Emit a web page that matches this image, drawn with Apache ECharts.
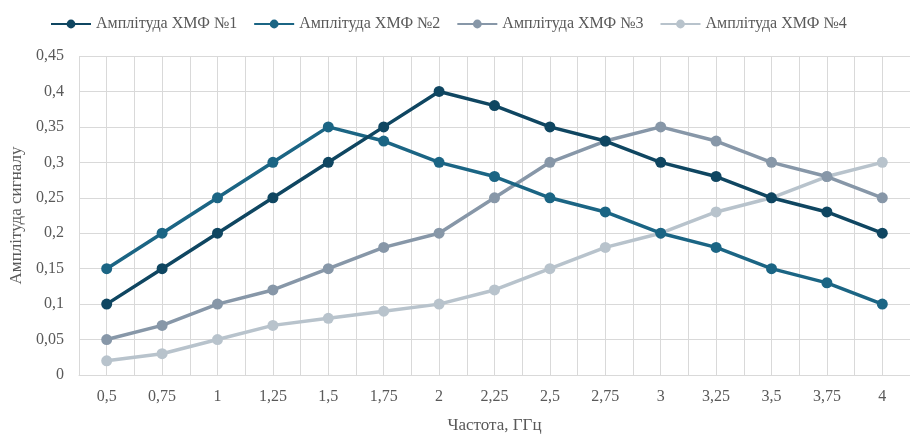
<!DOCTYPE html>
<html>
<head>
<meta charset="utf-8">
<script src="https://cdn.jsdelivr.net/npm/echarts@6/dist/echarts.min.js"></script>
<style>
  html, body { margin: 0; padding: 0; background: #fff; }
  #chart { width: 910px; height: 439px; }
</style>
</head>
<body>
<div id="chart"></div>
<script>
const categories = ['0,5', '0,75', '1', '1,25', '1,5', '1,75', '2', '2,25', '2,5', '2,75', '3', '3,25', '3,5', '3,75', '4']
const seriesNames = ['Амплітуда ХМФ №1', 'Амплітуда ХМФ №2', 'Амплітуда ХМФ №3', 'Амплітуда ХМФ №4']
const hmf1 = [0.1, 0.15, 0.2, 0.25, 0.3, 0.35, 0.4, 0.38, 0.35, 0.33, 0.3, 0.28, 0.25, 0.23, 0.2]
const hmf2 = [0.15, 0.2, 0.25, 0.3, 0.35, 0.33, 0.3, 0.28, 0.25, 0.23, 0.2, 0.18, 0.15, 0.13, 0.1]
const hmf3 = [0.05, 0.07, 0.1, 0.12, 0.15, 0.18, 0.2, 0.25, 0.3, 0.33, 0.35, 0.33, 0.3, 0.28, 0.25]
const hmf4 = [0.02, 0.03, 0.05, 0.07, 0.08, 0.09, 0.1, 0.12, 0.15, 0.18, 0.2, 0.23, 0.25, 0.28, 0.3]

const colors = ['#0f4661', '#1b6584', '#8797a8', '#b8c3cc']
const font = '"Liberation Serif", "Times New Roman", serif'
const gridColor = '#d9d9d9'
const textColor = '#595959'

const fmt = (v) => String(+v.toFixed(2)).replace('.', ',')

const chart = echarts.init(document.getElementById('chart'))

const series = [hmf1, hmf2, hmf3, hmf4].map((d, i) => ({
  name: seriesNames[i],
  type: 'line',
  data: d,
  xAxisIndex: 0,
  symbol: 'circle',
  symbolSize: 11,
  lineStyle: { width: 3.5, color: colors[i] },
  itemStyle: { color: colors[i] },
  z: 10 - i
}))

chart.setOption({
  animation: false,
  textStyle: { fontFamily: font },
  legend: {
    top: 11,
    left: 45,
    itemWidth: 40,
    itemHeight: 11,
    itemGap: 16,
    textStyle: { fontFamily: font, fontSize: 16, color: textColor },
    data: seriesNames
  },
  grid: { left: 79, top: 56, width: 840, height: 327, containLabel: false },
  xAxis: [
    {
      type: 'category',
      data: categories,
      boundaryGap: true,
      name: 'Частота, ГГц',
      nameLocation: 'middle',
      nameGap: 42,
      nameTextStyle: { fontFamily: font, fontSize: 17, color: textColor },
      axisLine: { show: true, lineStyle: { color: gridColor } },
      axisTick: { show: false },
      axisLabel: { margin: 14, fontFamily: font, fontSize: 16, color: textColor },
      splitLine: { show: false }
    },
    {
      // helper axis: gridlines at category centres and boundaries
      type: 'value',
      min: 0.375,
      max: 4.125,
      interval: 0.125,
      position: 'bottom',
      axisLine: { show: false },
      axisTick: { show: false },
      axisLabel: { show: false },
      splitLine: { show: true, lineStyle: { color: gridColor, width: 1 } }
    }
  ],
  yAxis: {
    type: 'value',
    min: 0,
    max: 0.45,
    interval: 0.05,
    name: 'Амплітуда сигналу',
    nameLocation: 'middle',
    nameGap: 54,
    nameTextStyle: { fontFamily: font, fontSize: 17, color: textColor },
    axisLine: { show: false },
    axisTick: { show: false },
    axisLabel: { margin: 15, fontFamily: font, fontSize: 16, color: textColor, formatter: fmt },
    splitLine: { show: true, lineStyle: { color: gridColor, width: 1 } }
  },
  series
})
</script>
</body>
</html>
